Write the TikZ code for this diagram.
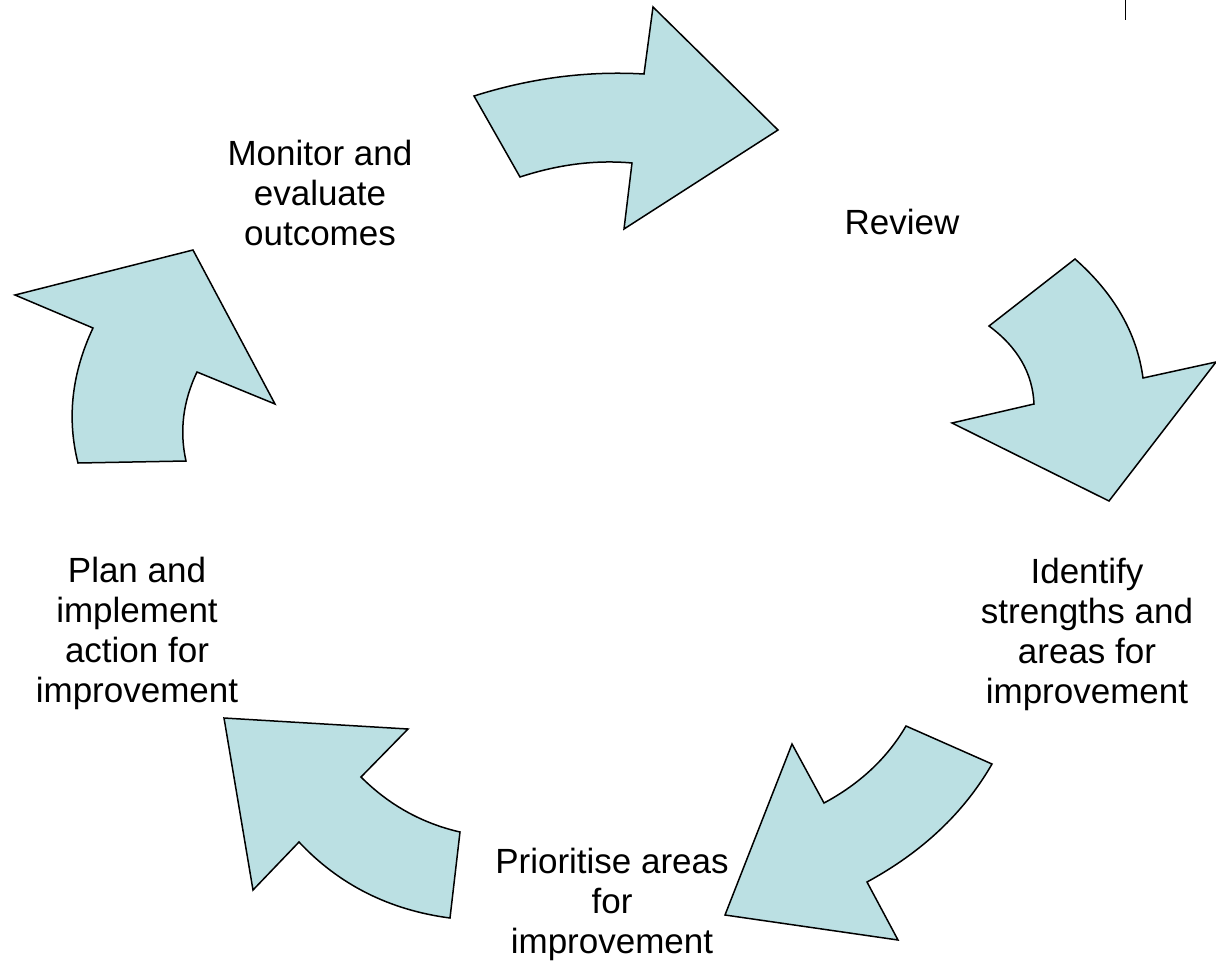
\documentclass[tikz,border=0pt]{standalone}
\usepackage{fontspec}
\setmainfont{Liberation Sans}
\usepackage{tikz}
\usetikzlibrary{positioning}
\definecolor{Pale}{HTML}{BBE0E3}

\begin{document}
\begin{tikzpicture}[x=1pt,y=-1pt,
    blk/.style={draw=black,line width=1.5pt,fill=Pale,line join=miter},
    lbl/.style={align=center,inner sep=0pt,font=\fontsize{35}{40}\selectfont}
  ]
    \useasboundingbox (0,0) rectangle (1216,962);
    % curved block arrows, clockwise from the top
    \draw[blk] (474,96) -- (520,177) .. controls (558.7,164.3) and (596,159.7) .. (632,163)
      -- (624,229) -- (778,130) -- (653,7) -- (644,74)
      .. controls (587.3,70.7) and (530.7,78) .. cycle;
    \draw[blk] (1075,259) -- (989,326) .. controls (1017.7,347.3) and (1032.7,373.3) .. (1034,404)
      -- (952,423) -- (1109,501) -- (1216,362) -- (1143,378)
      .. controls (1137,333.3) and (1114.3,293.7) .. cycle;
    \draw[blk] (906,726) -- (992,764) .. controls (964,812.7) and (922.3,852) .. (867,882)
      -- (898,940) -- (725,915) -- (792,744) -- (824,803)
      .. controls (860,783.7) and (887.3,758) .. cycle;
    \draw[blk] (224,718) -- (408,729) -- (361,777) .. controls (389,805) and (422,823.3) .. (460,832)
      -- (450,918) .. controls (389.3,910) and (339,884.7) .. (299,842) -- (253,890) -- cycle;
    \draw[blk] (193,250) -- (15,295) -- (93,328) .. controls (71.7,373.3) and (66.7,418.3) .. (78,463)
      -- (186,461) .. controls (179.3,431) and (183,401.3) .. (197,372) -- (275,404) -- cycle;
    % stage labels
    \node[lbl] (monitor) at (320,193) {Monitor and\\evaluate\\outcomes};
    \node[lbl] (review) at (902,222) {Review};
    \node[lbl] (identify) at (1087,634) {Identify\\strengths and\\areas for\\improvement};
    \node[lbl] (prioritise) at (612,904) {Prioritise areas\\for\\improvement};
    \node[lbl] (plan) at (137,633) {Plan and\\implement\\action for\\improvement};
    \draw[line width=1pt] (1125,0) -- (1125,20);
  \end{tikzpicture}
\end{document}
